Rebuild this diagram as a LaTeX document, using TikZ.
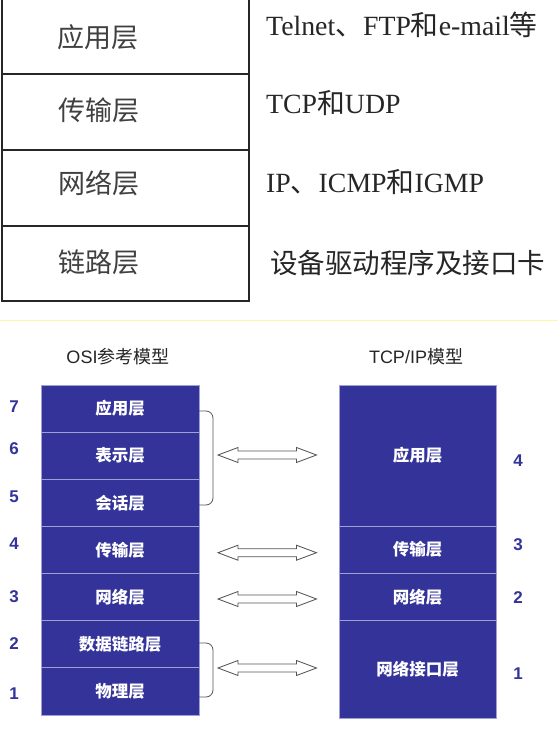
\documentclass[tikz,border=0pt]{standalone}
\usepackage{fontspec}
\setmainfont{Liberation Serif}
\newfontfamily\cjk{Noto Sans CJK SC}
\newfontfamily\sansf{Liberation Sans}
\usetikzlibrary{calc}
\definecolor{boxblue}{HTML}{333399}
\definecolor{divline}{HTML}{A0A0D2}
\definecolor{numblue}{HTML}{333399}
\definecolor{paleyellow}{HTML}{FFF7A8}
\definecolor{arrowgray}{HTML}{555555}
\newcommand\hollowarrow[2]{\draw[harrow] (#1) -- ($(#1)+(20,-7.5)$) -- ($(#1)+(20,-4)$) -- ($(#2)+(-20,-4)$) -- ($(#2)+(-20,-7.5)$) -- (#2) -- ($(#2)+(-20,7.5)$) -- ($(#2)+(-20,4)$) -- ($(#1)+(20,4)$) -- ($(#1)+(20,7.5)$) -- cycle;}
\tikzset{
  toplbl/.style={inner sep=0pt, text=black!75, font=\cjk\fontsize{27}{27}\selectfont},
  toptxt/.style={inner sep=0pt, anchor=west, text=black!85, font=\fontsize{27.8}{27.8}\selectfont},
  tableline/.style={line width=1.5pt, draw=black!85},
  layer/.style={rectangle, fill=boxblue, draw=divline, line width=0.9pt, minimum width=158pt, inner sep=0pt, outer sep=0pt, text=white, font=\cjk\bfseries\fontsize{16.5}{16.5}\selectfont},
  num/.style={inner sep=0pt, text=numblue, font=\sansf\bfseries\fontsize{17}{17}\selectfont},
  hdr/.style={inner sep=0pt, text=black!85, font=\cjk\fontsize{18}{18}\selectfont},
  brace/.style={draw=arrowgray, line width=0.8pt, rounded corners=7pt},
  harrow/.style={draw=arrowgray, fill=white, line width=0.85pt, line join=miter},
}
\begin{document}
\begin{tikzpicture}[x=1pt,y=-1pt]
\useasboundingbox (0,0) rectangle (558,743);
\fill[white] (0,0) rectangle (558,743);

% ---- top table ----
\draw[tableline] (2,0) -- (2,301) -- (249,301) -- (249,0);
\foreach \yy in {74,150,226} \draw[tableline, line width=1.3pt] (2,\yy) -- (249,\yy);
\node[toplbl] (t4) at (98,37) {应用层};
\node[toplbl] (t3) at (99,110) {传输层};
\node[toplbl] (t2) at (99,183) {网络层};
\node[toplbl] (t1) at (99,262) {链路层};
\node[toptxt] (r4) at (266,25) {Telnet{\cjk 、}FTP{\cjk 和}e-mail{\cjk 等}};
\node[toptxt] (r3) at (266,103) {TCP{\cjk 和}UDP};
\node[toptxt] (r2) at (266,182) {IP{\cjk 、}ICMP{\cjk 和}IGMP};
\node[toptxt, font=\cjk\fontsize{27.5}{27.5}\selectfont] (r1) at (270,263) {设备驱动程序及接口卡};

% ---- separator ----
\draw[paleyellow, line width=1pt] (0,320) -- (558,320);

% ---- headers ----
\node[hdr] (h1) at (118,357) {{\sansf OSI}参考模型};
\node[hdr] (h2) at (416,357) {{\sansf TCP/IP}模型};

% ---- OSI layers ----
\node[layer, minimum height=47.14pt] (o7) at (120,408.6) {应用层};
\node[layer, minimum height=47.14pt] (o6) at (120,455.7) {表示层};
\node[layer, minimum height=47.14pt] (o5) at (120,502.9) {会话层};
\node[layer, minimum height=47.14pt] (o4) at (120,550.0) {传输层};
\node[layer, minimum height=47.14pt] (o3) at (120,597.1) {网络层};
\node[layer, minimum height=47.14pt] (o2) at (120,644.3) {数据链路层};
\node[layer, minimum height=47.14pt] (o1) at (120,691.4) {物理层};

% ---- TCP/IP layers ----
\node[layer, minimum width=157pt, minimum height=141pt] (p4) at (417.5,455.5) {应用层};
\node[layer, minimum width=157pt, minimum height=47.3pt] (p3) at (417.5,549.65) {传输层};
\node[layer, minimum width=157pt, minimum height=47.4pt] (p2) at (417.5,597) {网络层};
\node[layer, minimum width=157pt, minimum height=97.6pt] (p1) at (417.5,669.5) {网络接口层};

% ---- numbers ----
\node[num] (n7) at (14,407) {7};
\node[num] (n6) at (14,449) {6};
\node[num] (n5) at (14,497) {5};
\node[num] (n4) at (14,544) {4};
\node[num] (n3) at (14,597) {3};
\node[num] (n2) at (14,644) {2};
\node[num] (n1) at (14,694) {1};
\node[num] (m4) at (518,461) {4};
\node[num] (m3) at (518,545) {3};
\node[num] (m2) at (518,598) {2};
\node[num] (m1) at (518,674) {1};

% ---- braces ----
\draw[brace] ($(o7.east)+(0,2.4)$) -- ++(14,0) -- ($(o5.east)+(14,2.1)$) -- ($(o5.east)+(0,2.1)$);
\draw[brace] ($(o2.east)+(0,-1.3)$) -- ++(14,0) -- ($(o1.east)+(14,5.6)$) -- ($(o1.east)+(0,5.6)$);

% ---- hollow double arrows ----
\coordinate (a1l) at (218,455);   \coordinate (a1r) at (316.5,455);
\coordinate (a2l) at (218,552.7); \coordinate (a2r) at (316.5,552.7);
\coordinate (a3l) at (218,599);   \coordinate (a3r) at (316.5,599);
\coordinate (a4l) at (218,668);   \coordinate (a4r) at (316.5,668);
\hollowarrow{a1l}{a1r}
\hollowarrow{a2l}{a2r}
\hollowarrow{a3l}{a3r}
\hollowarrow{a4l}{a4r}
\end{tikzpicture}
\end{document}
